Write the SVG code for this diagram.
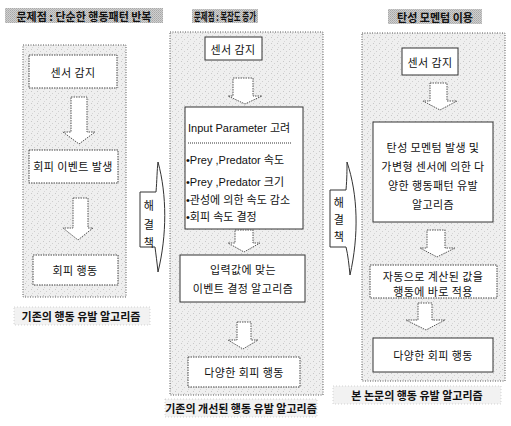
<svg xmlns="http://www.w3.org/2000/svg" width="511" height="426" viewBox="0 0 511 426">
<defs>
<pattern id="speck" width="6" height="6" patternUnits="userSpaceOnUse">
<rect width="6" height="6" fill="#efefef"/>
<rect x="1" y="1" width="1" height="1" fill="#c8c8c8"/>
<rect x="4" y="3" width="1" height="1" fill="#cfcfcf"/>
<rect x="2" y="5" width="1" height="1" fill="#d6d6d6"/>
</pattern>
<pattern id="title" width="2" height="2" patternUnits="userSpaceOnUse">
<rect width="2" height="2" fill="#cfcfcf"/>
<rect width="1" height="1" fill="#a8a8a8"/>
<rect x="1" y="1" width="1" height="1" fill="#b4b4b4"/>
</pattern>
</defs>
<style>
.panel{fill:url(#speck);stroke:#555;stroke-width:1;stroke-dasharray:1 1.5}
.box{fill:#fff;stroke:#333;stroke-width:1}
.dbox{fill:#fff;stroke:#444;stroke-width:1;stroke-dasharray:1.5 1}
.arr{fill:#fff;stroke:#555;stroke-width:1;stroke-dasharray:1.5 1}
.callout{fill:#fff;stroke:#333;stroke-width:1}
.tbg{fill:url(#title)}
.lbg{fill:#f2f2f2;stroke:#bbb;stroke-width:0.6;stroke-dasharray:1 2}
text{font-family:"Noto Sans CJK KR","Noto Sans",sans-serif;fill:#111;text-anchor:middle;dominant-baseline:central}
.t{font-size:11px;letter-spacing:0.4px}
.h{font-size:11px;font-weight:bold}
.b{font-size:11px;text-anchor:start;font-family:"Liberation Sans","Noto Sans CJK KR",sans-serif}
</style>

<g id="panel-left">
<rect class="tbg" x="5" y="8" width="158" height="15"/>
<text class="h" x="84" y="15.5">문제점 : 단순한 행동패턴 반복</text>
<rect class="panel" x="23" y="45" width="103" height="252"/>
<rect class="lbg" x="14" y="307" width="136" height="18"/>
<text class="h" x="81" y="316">기존의 행동 유발 알고리즘</text>
</g>
<g id="node-l1"><rect class="dbox" x="29" y="55" width="88" height="33"/><text class="t" x="73" y="72">센서 감지</text></g>
<g id="node-l2"><rect class="dbox" x="29" y="150" width="89" height="33"/><text class="t" x="73" y="166">회피 이벤트 발생</text></g>
<g id="node-l3"><rect class="dbox" x="33" y="255" width="85" height="30"/><text class="t" x="75" y="270">회피 행동</text></g>

<g id="panel-middle">
<rect class="tbg" x="192" y="9" width="66" height="14"/>
<text class="h" x="225" y="16" textLength="62" lengthAdjust="spacingAndGlyphs">문제점 : 복잡도 증가</text>
<rect class="panel" x="170" y="32" width="153" height="363"/>
<rect class="lbg" x="165" y="399" width="152" height="18"/>
<text class="h" x="241" y="408">기존의 개선된 행동 유발 알고리즘</text>
</g>
<g id="node-m1"><rect class="box" x="205" y="37" width="57" height="23"/><text class="t" x="233" y="49">센서 감지</text></g>
<g id="node-m2"><rect class="box" x="185" y="107" width="118" height="122"/>
<text class="b" x="188" y="128">Input Parameter 고려</text>
<line x1="188" y1="143" x2="292" y2="143" stroke="#333" stroke-width="1" stroke-dasharray="1 1"/>
<text class="b" x="186" y="160">•Prey ,Predator 속도</text>
<text class="b" x="186" y="182">•Prey ,Predator 크기</text>
<text class="b" x="186" y="200">•관성에 의한 속도 감소</text>
<text class="b" x="186" y="217">•회피 속도 결정</text>
</g>
<g id="node-m3"><rect class="box" x="180" y="255" width="125" height="47"/><text class="t" x="243" y="269">입력값에 맞는</text><text class="t" x="243" y="288">이벤트 결정 알고리즘</text></g>
<g id="node-m4"><rect class="dbox" x="188" y="357" width="112" height="30"/><text class="t" x="244" y="372">다양한 회피 행동</text></g>

<g id="panel-right">
<rect class="tbg" x="388" y="9" width="94" height="15"/>
<text class="h" x="435" y="16.5">탄성 모멘텀 이용</text>
<rect class="panel" x="362" y="33" width="143" height="348"/>
<rect class="lbg" x="333" y="386" width="168" height="18"/>
<text class="h" x="417" y="395">본 논문의 행동 유발 알고리즘</text>
</g>
<g id="node-r1"><rect class="box" x="402" y="48" width="56" height="27"/><text class="t" x="430" y="62">센서 감지</text></g>
<g id="node-r2"><rect class="box" x="373" y="122" width="120" height="100"/>
<text class="t" x="433" y="147">탄성 모멘텀 발생 및</text>
<text class="t" x="433" y="166">가변형 센서에 의한 다</text>
<text class="t" x="433" y="185">양한 행동패턴 유발</text>
<text class="t" x="433" y="204">알고리즘</text>
</g>
<g id="node-r3"><rect class="dbox" x="370" y="265" width="127" height="33"/><text class="t" x="433" y="276">자동으로 계산된 값을</text><text class="t" x="433" y="291">행동에 바로 적용</text></g>
<g id="node-r4"><rect class="box" x="373" y="338" width="120" height="34"/><text class="t" x="433" y="355">다양한 회피 행동</text></g>

<g id="connectors">
<path class="arr" d="M71,97 H87 V132 H95 L79,144 L63,132 H71 Z"/>
<path class="arr" d="M73,198 H88 V228 H93 L78,240 L63,228 H73 Z"/>
<path class="arr" d="M233,78 H253 V96 H262 L245,104 L228,96 H233 Z"/>
<path class="arr" d="M235,230 H253 V243 H260 L244,252 L228,243 H235 Z"/>
<path class="arr" d="M237,322 H251 V340 H258 L243,349 L228,340 H237 Z"/>
<path class="arr" d="M430,83 H447 V101 H457 L440,110 L423,101 H430 Z"/>
<path class="arr" d="M427,230 H445 V248 H455 L437,257 L420,248 H427 Z"/>
<path class="arr" d="M418,303 H432 V320 H445 L426,330 L406,320 H418 Z"/>
<g id="solution-left">
<path class="callout" d="M140,192 L156,192 C157,180 157,170 158,162 C167,195 167,235 158,272 C157,262 156,255 155,247 L140,247 Z"/>
<text class="t" x="149" y="205">해</text><text class="t" x="149" y="224">결</text><text class="t" x="149" y="242">책</text>
</g>
<g id="solution-right">
<path class="callout" d="M330,190 L346,190 C347,178 347,170 347,162 C358,195 359,235 350,275 C349,265 348,255 346,247 L330,247 Z"/>
<text class="t" x="339" y="202">해</text><text class="t" x="339" y="219">결</text><text class="t" x="339" y="236">책</text>
</g>
</g>
</svg>
